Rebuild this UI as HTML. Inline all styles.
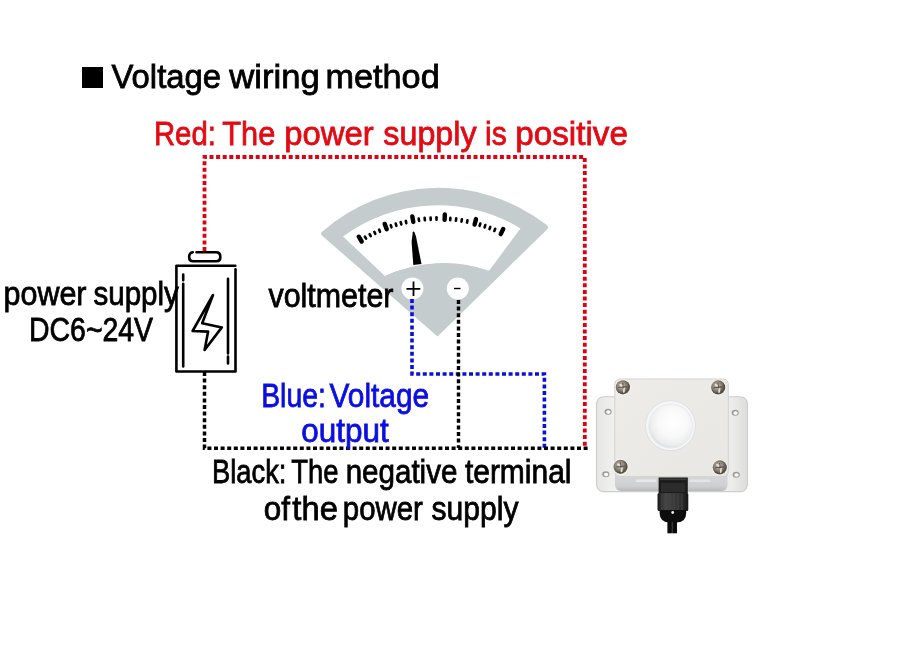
<!DOCTYPE html>
<html><head><meta charset="utf-8">
<style>
html,body{margin:0;padding:0;background:#fff;width:900px;height:671px;overflow:hidden}
svg{display:block;will-change:transform}
text{font-family:"Liberation Sans",sans-serif;stroke-width:0.8;paint-order:stroke}
</style></head>
<body>
<svg width="900" height="671" viewBox="0 0 900 671">
<rect width="900" height="671" fill="#fff"/>

<rect x="82" y="67" width="21" height="21" fill="#000"/>


<!-- voltmeter shape -->
<g id="vm">
  <path d="M437.5 336.5 L322.5 236 Q319.5 233.5 322.5 231.5 A176 176 0 0 1 546 224.5 Q549.5 226.5 547 229.5 Z" fill="#c4cccd"/>
  <path d="M343 236.5 A159 159 0 0 1 520.5 228.5 L488.5 271.5 A139 139 0 0 0 385 276 Z" fill="#fff"/>
  <g stroke="#000" stroke-linecap="round">
<line x1="361.7" y1="241.5" x2="358.8" y2="236.7" stroke-width="4.4"/>
<line x1="366.1" y1="238.7" x2="364.9" y2="236.6" stroke-width="2.6"/>
<line x1="370.7" y1="236.2" x2="369.6" y2="234.1" stroke-width="2.6"/>
<line x1="375.3" y1="233.9" x2="374.3" y2="231.8" stroke-width="2.6"/>
<line x1="380.0" y1="231.8" x2="379.1" y2="229.6" stroke-width="2.6"/>
<line x1="386.7" y1="229.2" x2="384.7" y2="223.9" stroke-width="4.4"/>
<line x1="391.5" y1="227.3" x2="390.7" y2="225.1" stroke-width="2.6"/>
<line x1="396.4" y1="225.8" x2="395.7" y2="223.5" stroke-width="2.6"/>
<line x1="401.3" y1="224.4" x2="400.7" y2="222.1" stroke-width="2.6"/>
<line x1="406.3" y1="223.2" x2="405.8" y2="220.9" stroke-width="2.6"/>
<line x1="413.3" y1="221.9" x2="412.3" y2="216.4" stroke-width="4.4"/>
<line x1="419.1" y1="220.9" x2="418.7" y2="218.6" stroke-width="2.6"/>
<line x1="424.9" y1="220.3" x2="424.6" y2="217.9" stroke-width="2.6"/>
<line x1="430.7" y1="219.9" x2="430.6" y2="217.5" stroke-width="2.6"/>
<line x1="436.5" y1="219.7" x2="436.5" y2="217.3" stroke-width="2.6"/>
<line x1="444.6" y1="219.9" x2="444.8" y2="214.4" stroke-width="4.4"/>
<line x1="450.2" y1="220.2" x2="450.4" y2="217.8" stroke-width="2.6"/>
<line x1="455.9" y1="220.8" x2="456.2" y2="218.4" stroke-width="2.6"/>
<line x1="461.5" y1="221.6" x2="461.9" y2="219.2" stroke-width="2.6"/>
<line x1="467.0" y1="222.6" x2="467.5" y2="220.3" stroke-width="2.6"/>
<line x1="474.6" y1="224.5" x2="476.0" y2="219.1" stroke-width="4.4"/>
<line x1="479.6" y1="225.8" x2="480.3" y2="223.5" stroke-width="2.6"/>
<line x1="484.6" y1="227.4" x2="485.3" y2="225.1" stroke-width="2.6"/>
<line x1="489.5" y1="229.1" x2="490.3" y2="226.9" stroke-width="2.6"/>
<line x1="494.3" y1="231.0" x2="495.2" y2="228.8" stroke-width="2.6"/>
<line x1="500.7" y1="234.1" x2="503.2" y2="229.0" stroke-width="4.4"/>
  </g>
  <path d="M412.8 232.2 Q413.6 230.8 414.6 232.6 L416 236.5 L421.5 264 L413.3 265 L411.6 242 Z" fill="#000"/>
  <path d="M383 277 A139 139 0 0 1 490 271 L488.5 274 L385 279 Z" fill="#c4cccd"/>
  <circle cx="412.4" cy="288.5" r="11" fill="#fff"/>
  <circle cx="457.8" cy="288.5" r="11" fill="#fff"/>
  <path d="M406.5 288.8 H420.3 M413.5 281.5 V296" stroke="#000" stroke-width="1.8" fill="none"/>
  <path d="M454 288.5 H460.5" stroke="#000" stroke-width="1.4" fill="none"/>
</g>

<!-- sensor -->
<defs>
  <linearGradient id="flg" x1="0" y1="0" x2="1" y2="0">
    <stop offset="0" stop-color="#e6e6e4"/><stop offset="0.1" stop-color="#efefed"/><stop offset="0.9" stop-color="#ececea"/><stop offset="1" stop-color="#dcdcda"/>
  </linearGradient>
  <linearGradient id="boxg" x1="0" y1="0" x2="1" y2="1">
    <stop offset="0" stop-color="#edece8"/><stop offset="1" stop-color="#e8e7e3"/>
  </linearGradient>
  <linearGradient id="sideg" x1="0" y1="0" x2="0" y2="1">
    <stop offset="0" stop-color="#e9e9e9"/><stop offset="0.2" stop-color="#d8d9db"/><stop offset="0.8" stop-color="#cfd0d2"/><stop offset="1" stop-color="#b9babc"/>
  </linearGradient>
  <radialGradient id="screwg" cx="0.42" cy="0.4" r="0.62">
    <stop offset="0" stop-color="#c9c0b3"/><stop offset="0.5" stop-color="#8f867a"/><stop offset="0.85" stop-color="#51493f"/><stop offset="1" stop-color="#70685e"/>
  </radialGradient>
  <radialGradient id="domeg" cx="0.55" cy="0.42" r="0.6">
    <stop offset="0" stop-color="#ffffff"/><stop offset="0.55" stop-color="#f9f9fa"/><stop offset="0.85" stop-color="#eceded"/><stop offset="1" stop-color="#dadbdf"/>
  </radialGradient>
  <linearGradient id="knurl" x1="0" y1="0" x2="1" y2="0">
    <stop offset="0" stop-color="#1a1a1a"/><stop offset="0.25" stop-color="#444"/><stop offset="0.5" stop-color="#3a3a3a"/><stop offset="0.75" stop-color="#303030"/><stop offset="1" stop-color="#161616"/>
  </linearGradient>
  <g id="screw">
    <circle r="7.9" fill="#f7f7f6"/>
    <circle r="7.1" fill="url(#screwg)"/>
    <path d="M-4.5 0.2 L4.2 -0.6" stroke="#4e4740" stroke-width="1.2" opacity="0.8"/>
    <path d="M-0.2 -4.5 L0.3 1" stroke="#4e4740" stroke-width="1.1" opacity="0.8"/>
    <path d="M-2.6 -2.6 L-1.2 -1.6" stroke="#eee5d7" stroke-width="1.8" stroke-linecap="round"/>
    <path d="M1.3 1.4 L0.9 4.6" stroke="#e6ddcf" stroke-width="1.8" stroke-linecap="round"/>
  </g>
  <g id="hole">
    <ellipse rx="3.6" ry="3" fill="#9c9c9a"/>
    <ellipse rx="2.2" ry="1.8" fill="#fafafa" cx="0.3" cy="0.3"/>
  </g>
</defs>
<g id="sensor">
  <rect x="596.5" y="396.8" width="151" height="94.8" rx="7" fill="url(#flg)" stroke="#cdcdca" stroke-width="1.1"/>
  <rect x="615" y="466" width="112.5" height="25" rx="6" fill="url(#sideg)"/>
  <rect x="614.8" y="379" width="113.5" height="97.5" rx="5" fill="url(#boxg)" stroke="#d3d3d0" stroke-width="1"/>
  <rect x="636" y="479.5" width="20" height="2.5" fill="#e8e8e8"/>
  <rect x="690" y="479.5" width="20" height="2.5" fill="#e4e4e4"/>
  <use href="#hole" x="608.1" y="411.8"/>
  <use href="#hole" x="735.2" y="412.8"/>
  <use href="#hole" x="605.8" y="474.3"/>
  <use href="#hole" x="736.2" y="474.7"/>
  <use href="#screw" x="622.9" y="387.3"/>
  <use href="#screw" x="718.2" y="387.4"/>
  <use href="#screw" x="620.6" y="466.8"/>
  <use href="#screw" x="719.8" y="467.4"/>
  <circle cx="670.5" cy="425.6" r="25" fill="#f5f6f8" stroke="#dcdde0" stroke-width="0.9"/>
  <circle cx="670.7" cy="426" r="21.8" fill="url(#domeg)"/>
  <circle cx="670.7" cy="426" r="22" fill="none" stroke="#e6e7ea" stroke-width="0.8"/>
  <!-- gland -->
  <rect x="658.6" y="477.5" width="29.2" height="16" fill="#1c1c1c"/>
  <rect x="660" y="478.5" width="26.5" height="1.6" fill="#3a3a3a"/>
  <rect x="661" y="483" width="24" height="9" fill="#2b2b2b"/>
  <rect x="657.5" y="493" width="30.8" height="18" rx="1.5" fill="url(#knurl)"/>
  <g stroke="#4a4a4a" stroke-width="0.8">
    <path d="M662 494 V510 M666 494 V510 M670 494 V510 M674 494 V510 M678 494 V510 M682 494 V510"/>
  </g>
  <path d="M659.6 510 H686.2 V513 Q686.2 522.5 676 522.5 H670 Q659.6 522.5 659.6 513 Z" fill="#0d0d0d"/>
  <circle cx="672.7" cy="512.5" r="1.4" fill="#eeeeee"/>
  <rect x="667.4" y="521" width="9.6" height="12.3" fill="#0a0a0a"/>
  <rect x="671.7" y="522" width="1" height="11" fill="#4a4a4a"/>
</g>

<!-- dotted lines -->
<g fill="none" stroke-dasharray="4 2.6">
  <path d="M204.5 251 V157 H584.8 V448" stroke="#e10010" stroke-width="3.8"/>
  <path d="M412 299 V374 H544.4 V448" stroke="#0a10dc" stroke-width="3.6"/>
  <path d="M204.5 372 V448.3 H588" stroke="#000" stroke-width="3.5"/>
  <path d="M458.5 300 V448" stroke="#000" stroke-width="3.4"/>
</g>


<!-- battery -->
<g fill="none" stroke="#000" stroke-width="2.6" stroke-linejoin="round" stroke-linecap="round">
  <path d="M192.8 252.2 Q189.2 252.8 189.2 256.5 V257.5 Q189.2 261.2 193 261.2 H216.5 Q220.3 261.2 220.3 257.5 V256.5 Q220.3 252.2 216 252.2 H196.5"/>
  <path d="M235.3 265.7 H176.4 V371.5 H235.5 V269.3"/>
  <path d="M183.2 274.5 V280.3 M183.2 283.7 V366.5"/>
  <path d="M228 278.7 V353.5 M228 356.5 V363.5"/>
  <path d="M213 295 L192.6 331 L208.1 331.6 L204.6 350 L221.8 327.4 L202.2 323.2 Z"/>
</g>

<!-- voltmeter -->



<!-- texts -->
<text x="111.53" y="88" font-size="34" textLength="109.58" lengthAdjust="spacingAndGlyphs" fill="#000" stroke="#000">Voltage</text>
<text x="229.25" y="88" font-size="34" textLength="90.44" lengthAdjust="spacingAndGlyphs" fill="#000" stroke="#000">wiring</text>
<text x="325.48" y="88" font-size="34" textLength="114.25" lengthAdjust="spacingAndGlyphs" fill="#000" stroke="#000">method</text>
<text x="153.95" y="145.3" font-size="34" textLength="61.93" lengthAdjust="spacingAndGlyphs" fill="#e30a14" stroke="#e30a14">Red:</text>
<text x="222.32" y="145.3" font-size="34" textLength="52.99" lengthAdjust="spacingAndGlyphs" fill="#e30a14" stroke="#e30a14">The</text>
<text x="284.29" y="145.3" font-size="34" textLength="89.37" lengthAdjust="spacingAndGlyphs" fill="#e30a14" stroke="#e30a14">power</text>
<text x="383.32" y="145.3" font-size="34" textLength="93.33" lengthAdjust="spacingAndGlyphs" fill="#e30a14" stroke="#e30a14">supply</text>
<text x="485.07" y="145.3" font-size="34" textLength="21.75" lengthAdjust="spacingAndGlyphs" fill="#e30a14" stroke="#e30a14">is</text>
<text x="515.29" y="145.3" font-size="34" textLength="112.59" lengthAdjust="spacingAndGlyphs" fill="#e30a14" stroke="#e30a14">positive</text>
<text x="3.49" y="304.6" font-size="34" textLength="83.00" lengthAdjust="spacingAndGlyphs" fill="#000" stroke="#000">power</text>
<text x="93.50" y="304.6" font-size="34" textLength="85.38" lengthAdjust="spacingAndGlyphs" fill="#000" stroke="#000">supply</text>
<text x="29.05" y="341.3" font-size="34" textLength="124.03" lengthAdjust="spacingAndGlyphs" fill="#000" stroke="#000">DC6~24V</text>
<text x="268.51" y="307.3" font-size="34" textLength="125.00" lengthAdjust="spacingAndGlyphs" fill="#000" stroke="#000">voltmeter</text>
<text x="261.15" y="406.6" font-size="34" textLength="64.69" lengthAdjust="spacingAndGlyphs" fill="#0a0ee0" stroke="#0a0ee0">Blue:</text>
<text x="329.51" y="406.6" font-size="34" textLength="99.64" lengthAdjust="spacingAndGlyphs" fill="#0a0ee0" stroke="#0a0ee0">Voltage</text>
<text x="301.31" y="442" font-size="34" textLength="87.39" lengthAdjust="spacingAndGlyphs" fill="#0a0ee0" stroke="#0a0ee0">output</text>
<text x="211.93" y="483.4" font-size="34" textLength="74.54" lengthAdjust="spacingAndGlyphs" fill="#000" stroke="#000">Black:</text>
<text x="291.28" y="483.4" font-size="34" textLength="47.25" lengthAdjust="spacingAndGlyphs" fill="#000" stroke="#000">The</text>
<text x="345.65" y="483.4" font-size="34" textLength="111.73" lengthAdjust="spacingAndGlyphs" fill="#000" stroke="#000">negative</text>
<text x="464.89" y="483.4" font-size="34" textLength="106.66" lengthAdjust="spacingAndGlyphs" fill="#000" stroke="#000">terminal</text>
<text x="263.87" y="519.7" font-size="34" textLength="26.20" lengthAdjust="spacingAndGlyphs" fill="#000" stroke="#000">of</text>
<text x="292.34" y="519.7" font-size="34" textLength="45.53" lengthAdjust="spacingAndGlyphs" fill="#000" stroke="#000">the</text>
<text x="342.86" y="519.7" font-size="34" textLength="80.04" lengthAdjust="spacingAndGlyphs" fill="#000" stroke="#000">power</text>
<text x="431.50" y="519.7" font-size="34" textLength="86.97" lengthAdjust="spacingAndGlyphs" fill="#000" stroke="#000">supply</text>
</svg>
</body></html>
